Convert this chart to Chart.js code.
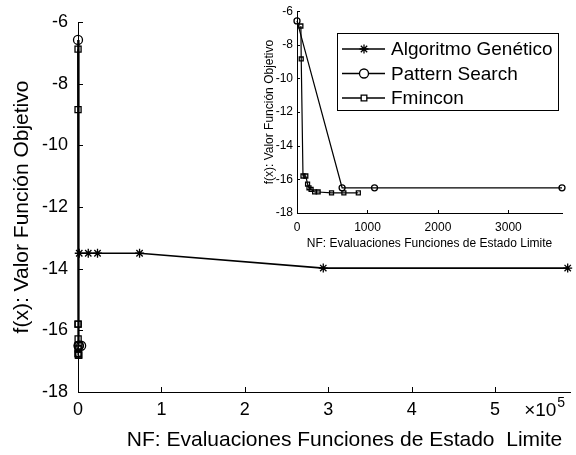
<!DOCTYPE html>
<html>
<head>
<meta charset="utf-8">
<script src="https://cdn.jsdelivr.net/npm/chart.js@4"></script>
<style>
  html, body { margin: 0; padding: 0; background: #fff; }
  #wrap { position: relative; width: 576px; height: 455px; }
  #mainChart { position: absolute; left: 0; top: 0; }
  #insetChart { position: absolute; left: 240px; top: 0; }
</style>
</head>
<body>
<div id="wrap">
  <canvas id="mainChart" width="576" height="455"></canvas>
  <canvas id="insetChart" width="336" height="250"></canvas>
</div>
<script>
// series: NF (function evaluations) and objective value per algorithm
const seriesNames = ['Algoritmo Genético', 'Pattern Search', 'Fmincon'];

const gaNF = [1500, 12300, 23400, 73800, 294000, 587000];
const gaF = [-13.5, -13.5, -13.5, -13.5, -13.98, -13.98];

const psNF = [0, 640, 1100, 3760];
const psF = [-6.58, -16.5, -16.5, -16.5];

const fmNF = [55, 60, 85, 125, 150, 170, 200, 250, 300, 490, 665, 870];
const fmF = [-6.88, -8.84, -15.8, -15.8, -16.28, -16.5, -16.6, -16.75, -16.75, -16.8, -16.8, -16.8];

// axis ticks
const yTicks = [-18, -16, -14, -12, -10, -8, -6];
const mainXTicks = [0, 1, 2, 3, 4, 5]; // in units of 10^5
const insetXTicks = [0, 1000, 2000, 3000];

const FONT = '"Liberation Sans", Arial, Helvetica, sans-serif';

function pts(xs, ys) {
  return xs.map((x, i) => ({ x: x, y: ys[i] }));
}

// draws short inward tick marks on the left and bottom axes
function inwardTicks(len) {
  return {
    id: 'inwardTicks',
    afterDraw(chart) {
      const c = chart.ctx, a = chart.chartArea;
      const xs = chart.scales.x, ys = chart.scales.y;
      c.save();
      c.strokeStyle = '#000';
      c.lineWidth = 1;
      c.beginPath();
      xs.ticks.forEach(t => {
        const px = Math.round(xs.getPixelForValue(t.value)) + 0.5;
        c.moveTo(px, a.bottom);
        c.lineTo(px, a.bottom - len);
      });
      ys.ticks.forEach(t => {
        const py = Math.round(ys.getPixelForValue(t.value)) + 0.5;
        c.moveTo(a.left, py);
        c.lineTo(a.left + len, py);
      });
      c.stroke();
      c.restore();
    }
  };
}

// "x10^5" exponent label at the right end of the main x axis
const exponentLabel = {
  id: 'exponentLabel',
  afterDraw(chart) {
    const c = chart.ctx, a = chart.chartArea;
    c.save();
    c.fillStyle = '#000';
    c.textBaseline = 'alphabetic';
    c.textAlign = 'left';
    c.font = '19px ' + FONT;
    c.fillText('\u00d710', a.right - 46, a.bottom + 24);
    c.font = '14px ' + FONT;
    c.fillText('5', a.right - 13, a.bottom + 15);
    c.restore();
  }
};

// boxed legend inside the inset, one entry per series
const boxedLegend = {
  id: 'boxedLegend',
  afterDraw(chart) {
    const c = chart.ctx;
    const bx = 97, by = 33, bw = 221, bh = 77;
    c.save();
    c.fillStyle = '#fff';
    c.fillRect(bx, by, bw, bh);
    c.strokeStyle = '#000';
    c.lineWidth = 1;
    c.strokeRect(bx + 0.5, by + 0.5, bw, bh);
    const styles = ['star', 'circle', 'rect'];
    const radii = [4.5, 4.5, 4];
    seriesNames.forEach((name, i) => {
      const cy = by + 16 + i * 24.5;
      c.strokeStyle = '#000';
      c.lineWidth = 1.5;
      c.beginPath();
      c.moveTo(bx + 5, cy);
      c.lineTo(bx + 48, cy);
      c.stroke();
      c.fillStyle = '#fff';
      c.lineWidth = 1.3;
      Chart.helpers.drawPoint(c, { pointStyle: styles[i], radius: radii[i], rotation: 0, borderWidth: 1.3 }, bx + 27, cy);
      c.fillStyle = '#000';
      c.font = '19px ' + FONT;
      c.textBaseline = 'middle';
      c.fillText(name, bx + 54, cy + 1);
    });
    c.restore();
  }
};

function lineSet(label, data, style, radius, width) {
  return {
    label: label,
    data: data,
    borderColor: '#000',
    borderWidth: width,
    pointStyle: style,
    pointRadius: radius,
    pointBorderColor: '#000',
    pointBackgroundColor: 'rgba(0,0,0,0)',
    pointBorderWidth: 1.3,
    showLine: true,
    clip: false,
    tension: 0
  };
}

// leading no-break spaces nudge the centred x title to the right
const mainXTitle = '\u00a0'.repeat(7) + 'NF: Evaluaciones Funciones de Estado  Limite';

// main chart
new Chart(document.getElementById('mainChart'), {
  type: 'scatter',
  data: {
    datasets: [
      lineSet(seriesNames[0], pts(gaNF, gaF), 'star', 4.5, 1.7),
      lineSet(seriesNames[1], pts(psNF, psF), 'circle', 4.5, 1.7),
      lineSet(seriesNames[2], pts(fmNF, fmF), 'rect', 4.3, 1.7)
    ]
  },
  options: {
    responsive: false,
    animation: false,
    events: [],
    layout: { padding: { top: 22, right: 3, left: 0, bottom: 0 } },
    plugins: { legend: { display: false }, tooltip: { enabled: false } },
    scales: {
      x: {
        type: 'linear',
        min: 0,
        max: 590000,
        afterBuildTicks: s => { s.ticks = mainXTicks.map(v => ({ value: v * 1e5 })); },
        afterFit: s => { s.height = 63; },
        grid: { drawOnChartArea: false, drawTicks: false },
        border: { display: true, color: '#000', width: 1 },
        ticks: {
          padding: 7,
          color: '#000',
          font: { family: FONT, size: 18 },
          callback: v => String(v / 1e5)
        },
        title: {
          display: true,
          text: mainXTitle,
          color: '#000',
          font: { family: FONT, size: 21 },
          padding: { top: 0, bottom: 2 }
        }
      },
      y: {
        type: 'linear',
        min: -18,
        max: -6,
        afterBuildTicks: s => { s.ticks = yTicks.map(v => ({ value: v })); },
        afterFit: s => { s.width = 78; },
        grid: { drawOnChartArea: false, drawTicks: false },
        border: { display: true, color: '#000', width: 1 },
        ticks: {
          padding: 10,
          color: '#000',
          font: { family: FONT, size: 18 },
          callback: v => String(v)
        },
        title: {
          display: true,
          text: 'f(x): Valor Función Objetivo',
          color: '#000',
          font: { family: FONT, size: 21 },
          padding: { top: 10, bottom: 0 }
        }
      }
    }
  },
  plugins: [inwardTicks(5), exponentLabel]
});

// inset chart, zoomed on the first evaluations
new Chart(document.getElementById('insetChart'), {
  type: 'scatter',
  data: {
    datasets: [
      lineSet(seriesNames[1], pts(psNF, psF), 'circle', 3, 1.2),
      lineSet(seriesNames[2], pts(fmNF, fmF), 'rect', 2.8, 1.2)
    ]
  },
  options: {
    responsive: false,
    animation: false,
    events: [],
    layout: { padding: { top: 9, right: 14, left: 0, bottom: 0 } },
    plugins: { legend: { display: false }, tooltip: { enabled: false } },
    scales: {
      x: {
        type: 'linear',
        min: 0,
        max: 3760,
        afterBuildTicks: s => { s.ticks = insetXTicks.map(v => ({ value: v })); },
        afterFit: s => { s.height = 37; },
        grid: { drawOnChartArea: false, drawTicks: false },
        border: { display: true, color: '#000', width: 1 },
        ticks: {
          padding: 7,
          color: '#000',
          font: { family: FONT, size: 12 },
          callback: v => String(v)
        },
        title: {
          display: true,
          text: 'NF: Evaluaciones Funciones de Estado Limite',
          color: '#000',
          font: { family: FONT, size: 12 },
          padding: { top: 0, bottom: -1 }
        }
      },
      y: {
        type: 'linear',
        min: -18,
        max: -6,
        afterBuildTicks: s => { s.ticks = yTicks.map(v => ({ value: v })); },
        afterFit: s => { s.width = 57; },
        grid: { drawOnChartArea: false, drawTicks: false },
        border: { display: true, color: '#000', width: 1 },
        ticks: {
          padding: 4,
          color: '#000',
          font: { family: FONT, size: 12 },
          callback: v => String(v)
        },
        title: {
          display: true,
          text: 'f(x): Valor Función Objetivo',
          color: '#000',
          font: { family: FONT, size: 12 },
          padding: { top: 22, bottom: 0 }
        }
      }
    }
  },
  plugins: [inwardTicks(3), boxedLegend]
});
</script>
</body>
</html>
